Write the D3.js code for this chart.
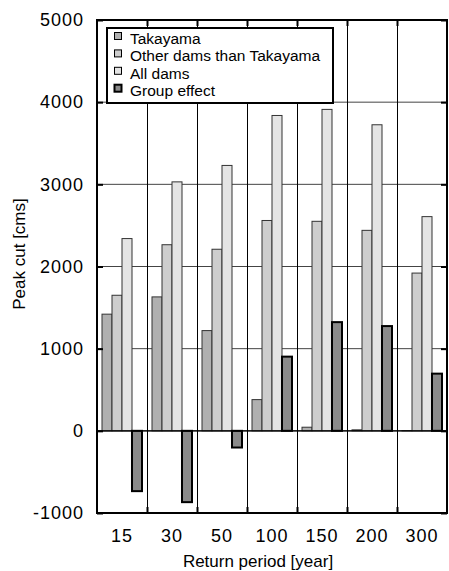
<!DOCTYPE html>
<html>
<head>
<meta charset="utf-8">
<script src="https://cdn.jsdelivr.net/npm/d3@7"></script>
<style>
  body { margin: 0; background: #fff; }
  svg { display: block; font-family: "Liberation Sans", Arial, sans-serif; }
</style>
</head>
<body>
<script>
// data
var periods = ["15", "30", "50", "100", "150", "200", "300"];
var seriesNames = ["Takayama", "Other dams than Takayama", "All dams", "Group effect"];
var takayama = [1420, 1630, 1220, 380, 44, 12, 3];
var otherDams = [1650, 2265, 2210, 2560, 2550, 2440, 1920];
var allDams = [2340, 3030, 3230, 3838, 3912, 3725, 2607];
var groupEffect = [-734, -868, -203, 903, 1323, 1275, 696];
var yTicks = [-1000, 0, 1000, 2000, 3000, 4000, 5000];

var seriesValues = [takayama, otherDams, allDams, groupEffect];
var fills = ["#b0b0b0", "#cdcdcd", "#e4e4e4", "#8a8a8a"];

//Width and height, plot box
var w = 449;
var h = 571;
var plotL = 97, plotR = 447, plotT = 20, plotB = 513;

var svg = d3.select("body")
            .append("svg")
            .attr("width", w)
            .attr("height", h);

var yScale = d3.scaleLinear()
               .domain([-1000, 5000])
               .range([plotB, plotT]);

var x0 = d3.scaleBand()
           .domain(periods)
           .range([plotL, plotR]);

var x1 = d3.scaleBand()
           .domain(seriesNames)
           .range([5, x0.bandwidth() - 5]);

//horizontal grid behind bars
svg.append("g")
   .selectAll("line")
   .data(yTicks)
   .enter()
   .append("line")
   .attr("x1", plotL)
   .attr("x2", plotR)
   .attr("y1", function(d) { return yScale(d); })
   .attr("y2", function(d) { return yScale(d); })
   .attr("stroke", "#444")
   .attr("stroke-width", 1);

//vertical lines between groups
svg.append("g")
   .selectAll("line")
   .data(periods.slice(1))
   .enter()
   .append("line")
   .attr("x1", function(d) { return x0(d) + 0.5; })
   .attr("x2", function(d) { return x0(d) + 0.5; })
   .attr("y1", plotT)
   .attr("y2", plotB)
   .attr("stroke", "#000")
   .attr("stroke-width", 1);

//bars
var rows = [];
periods.forEach(function(p, i) {
    seriesNames.forEach(function(s, j) {
        rows.push({ period: p, series: s, k: j, value: seriesValues[j][i] });
    });
});

svg.append("g")
   .selectAll("rect")
   .data(rows)
   .enter()
   .append("rect")
   .attr("x", function(d) { return x0(d.period) + x1(d.series); })
   .attr("width", x1.bandwidth())
   .attr("y", function(d) { return yScale(Math.max(0, d.value)); })
   .attr("height", function(d) { return Math.abs(yScale(d.value) - yScale(0)); })
   .attr("fill", function(d) { return fills[d.k]; })
   .attr("stroke", function(d) { return d.k == 3 ? "#000" : "#333"; })
   .attr("stroke-width", function(d) { return d.k == 3 ? 2 : 1; });

//zero line
svg.append("line")
   .attr("x1", plotL).attr("x2", plotR)
   .attr("y1", yScale(0)).attr("y2", yScale(0))
   .attr("stroke", "#000")
   .attr("stroke-width", 1.2);

//axes with inward ticks
var yAxis = d3.axisLeft(yScale)
              .tickValues(yTicks)
              .tickSize(-6)
              .tickPadding(13)
              .tickFormat(function(d) { return String(d); });

var gy = svg.append("g")
   .attr("transform", "translate(" + plotL + ",0)")
   .call(yAxis);

svg.append("g")
   .attr("transform", "translate(" + plotR + ",0)")
   .call(d3.axisRight(yScale).tickValues(yTicks).tickSize(-6).tickFormat(""));

var xAxis = d3.axisBottom(x0)
              .tickSize(0)
              .tickPadding(16);

var gx = svg.append("g")
   .attr("transform", "translate(0," + plotB + ")")
   .call(xAxis);

//group boundary ticks on bottom and top
var bounds = periods.slice(1).map(function(p) { return x0(p); });
[[plotB, plotB - 6], [plotT, plotT + 6]].forEach(function(ys) {
    svg.append("g")
       .selectAll("line")
       .data(bounds)
       .enter()
       .append("line")
       .attr("x1", function(d) { return d + 0.5; })
       .attr("x2", function(d) { return d + 0.5; })
       .attr("y1", ys[0])
       .attr("y2", ys[1])
       .attr("stroke", "#000")
       .attr("stroke-width", 2);
});

[gy, gx].forEach(function(g) {
    g.selectAll("text")
     .attr("font-family", "Liberation Sans, Arial, sans-serif")
     .attr("font-size", "18px")
     .attr("letter-spacing", "1px")
     .attr("fill", "#000");
});
svg.selectAll(".tick line").attr("stroke", "#000").attr("stroke-width", 2);
svg.selectAll(".domain").remove();

//frame
svg.append("rect")
   .attr("x", plotL)
   .attr("y", plotT)
   .attr("width", plotR - plotL)
   .attr("height", plotB - plotT)
   .attr("fill", "none")
   .attr("stroke", "#000")
   .attr("stroke-width", 2);

//axis titles
svg.append("text")
   .attr("x", 258)
   .attr("y", 567)
   .attr("text-anchor", "middle")
   .attr("font-size", "17px")
   .text("Return period [year]");

svg.append("text")
   .attr("transform", "translate(25,254) rotate(-90)")
   .attr("text-anchor", "middle")
   .attr("font-size", "17px")
   .text("Peak cut [cms]");

//legend
var legend = svg.append("g");
legend.append("rect")
      .attr("x", 107)
      .attr("y", 28)
      .attr("width", 226)
      .attr("height", 75)
      .attr("fill", "#fff")
      .attr("stroke", "#000")
      .attr("stroke-width", 2);

var items = legend.selectAll("g.item")
      .data(seriesNames)
      .enter()
      .append("g")
      .attr("class", "item")
      .attr("transform", function(d, i) { return "translate(0," + (44 + i * 17.4) + ")"; });

items.append("rect")
     .attr("x", 114.5)
     .attr("y", -11.5)
     .attr("width", 7)
     .attr("height", 7)
     .attr("fill", function(d, i) { return fills[i]; })
     .attr("stroke", "#000")
     .attr("stroke-width", function(d, i) { return i == 3 ? 2 : 1; });

items.append("text")
     .attr("x", 130)
     .attr("y", 0)
     .attr("font-size", "15.5px")
     .text(function(d) { return d; });
</script>
</body>
</html>
